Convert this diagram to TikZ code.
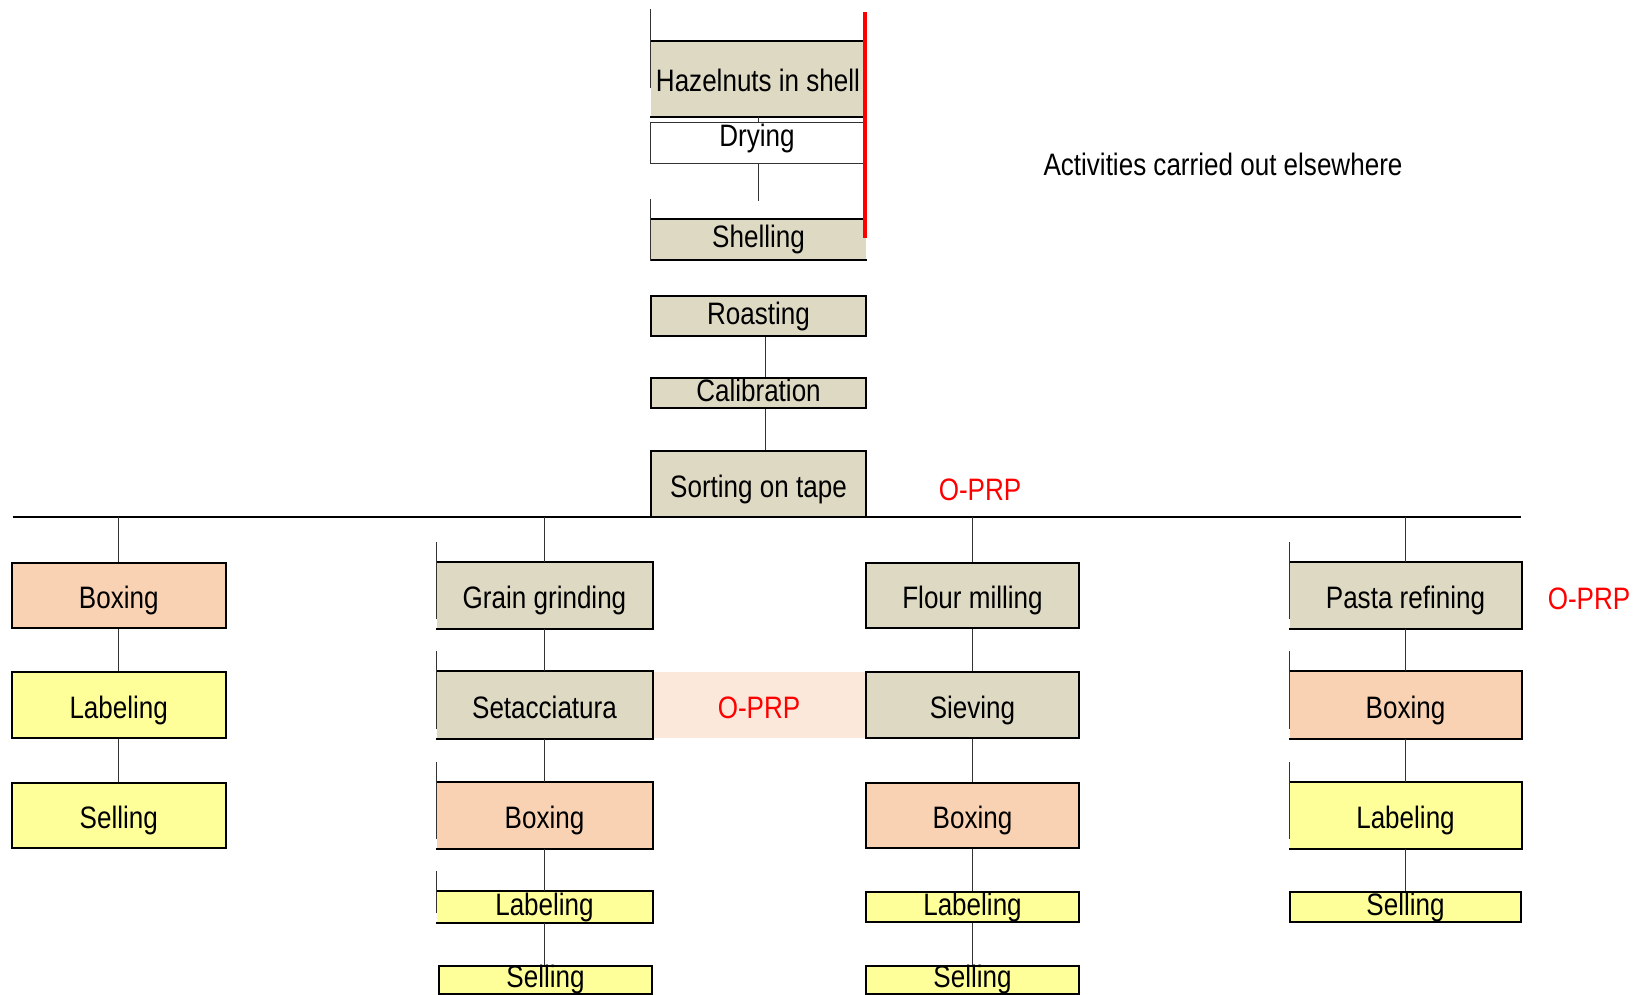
\documentclass[tikz,border=0pt]{standalone}
\usepackage{fontspec}
\setmainfont{Liberation Sans}[FakeStretch=0.84]
\definecolor{tan}{HTML}{DDD9C3}
\definecolor{peach}{HTML}{F9D2B4}
\definecolor{lemon}{HTML}{FFFF99}
\definecolor{blush}{HTML}{FBE8DA}
\begin{document}
\begin{tikzpicture}[x=1pt,y=-1pt,
	block/.style={draw=black,line width=2pt,inner sep=0pt,text height=22pt,text depth=6pt,font=\fontsize{31}{31}\selectfont},
	tall/.style={text height=27pt,text depth=1pt},
	openblock/.style={block,draw=none},
	edge/.style={line width=2pt,line join=miter},
	stub/.style={line width=1pt,black!80},
	link/.style={line width=1pt,black!80},
	note/.style={red,inner sep=0pt,font=\fontsize{31}{31}\selectfont}]
	\useasboundingbox (0,0) rectangle (1634,995);
	\node[openblock,tall,fill=tan,minimum width=214pt,minimum height=74pt] (hazel) at (758,79) {Hazelnuts in shell};
	\node[openblock,fill=white,minimum width=212pt,minimum height=39pt] (dry) at (757,143.5) {};
	\node[font=\fontsize{31}{31}\selectfont,inner sep=0pt] (drytext) at (757,138) {Drying};
	\node[openblock,fill=tan,minimum width=215pt,minimum height=39pt] (shell) at (758.5,239.5) {Shelling};
	\node[block,fill=tan,minimum width=215pt,minimum height=40pt] (roast) at (758.5,316) {Roasting};
	\node[block,fill=tan,minimum width=215pt,minimum height=30pt] (calib) at (758.5,393) {Calibration};
	\node[block,tall,fill=tan,minimum width=215pt,minimum height=66pt] (sort) at (758.5,484) {Sorting on tape};
	\coordinate (spine) at (765,0);
	\coordinate (dryend) at (758,201);
	\coordinate (busL) at (12.5,517);
	\coordinate (busR) at (1521,517);
	\draw[edge] (hazel.north west) -- (hazel.north east);
	\draw[edge] (hazel.south west) -- (hazel.south east);
	\draw[stub] ([yshift=32pt]hazel.north west) -- ([yshift=29pt]hazel.south west);
	\draw[link] (dry.north east) -- (dry.north west) -- (dry.south west) -- (dry.south east);
	\draw[edge] (shell.north west) -- (shell.north east);
	\draw[edge] (shell.south west) -- (shell.south east);
	\draw[stub] ([yshift=20pt]shell.north west) -- ([yshift=-1pt]shell.south west);
	\draw[red,line width=4pt] (865,12.5) -- (865,238);
	\draw[link] (hazel.south -| dryend) -- (dry.north -| dryend);
	\draw[link] (dry.south -| dryend) -- (dryend);
	\draw[link] (roast.south -| spine) -- (calib.north -| spine);
	\draw[link] (calib.south -| spine) -- (sort.north -| spine);
	\draw[line width=2pt] (busL) -- (busR);
	\node[font=\fontsize{31}{31}\selectfont,inner sep=0pt] (elsewhere) at (1223,164) {Activities carried out elsewhere};
	\node[note] (opTop) at (980,490) {O-PRP};
	\node[note] (opRight) at (1589,599) {O-PRP};
	\node[openblock,tall,fill=blush,text=red,minimum width=214pt,minimum height=66pt] (opMid) at (759,705) {O-PRP};
	\node[block,tall,fill=peach,minimum width=214.5pt,minimum height=65pt] (c1a) at (118.75,595.5) {Boxing};
	\node[block,tall,fill=lemon,minimum width=214.5pt,minimum height=66pt] (c1b) at (118.75,705) {Labeling};
	\node[block,tall,fill=lemon,minimum width=214.5pt,minimum height=65pt] (c1c) at (118.75,815.5) {Selling};
	\node[openblock,tall,fill=tan,minimum width=215pt,minimum height=65pt] (c2a) at (544.5,595.5) {Grain grinding};
	\node[openblock,tall,fill=tan,minimum width=215pt,minimum height=66pt] (c2b) at (544.5,705) {Setacciatura};
	\node[openblock,tall,fill=peach,minimum width=215pt,minimum height=65pt] (c2c) at (544.5,815.5) {Boxing};
	\node[openblock,fill=lemon,minimum width=215pt,minimum height=30pt] (c2d) at (544.5,907) {Labeling};
	\node[block,fill=lemon,minimum width=213pt,minimum height=27pt] (c2e) at (545.5,979.5) {Selling};
	\node[block,tall,fill=tan,minimum width=213pt,minimum height=65pt] (c3a) at (972.5,595.5) {Flour milling};
	\node[block,tall,fill=tan,minimum width=213pt,minimum height=66pt] (c3b) at (972.5,705) {Sieving};
	\node[block,tall,fill=peach,minimum width=213pt,minimum height=65pt] (c3c) at (972.5,815.5) {Boxing};
	\node[block,fill=lemon,minimum width=213pt,minimum height=30pt] (c3d) at (972.5,907) {Labeling};
	\node[block,fill=lemon,minimum width=213pt,minimum height=27pt] (c3e) at (972.5,979.5) {Selling};
	\node[openblock,tall,fill=tan,minimum width=231pt,minimum height=65pt] (c4a) at (1405.5,595.5) {Pasta refining};
	\node[openblock,tall,fill=peach,minimum width=231pt,minimum height=66pt] (c4b) at (1405.5,705) {Boxing};
	\node[openblock,tall,fill=lemon,minimum width=231pt,minimum height=65pt] (c4c) at (1405.5,815.5) {Labeling};
	\node[block,fill=lemon,minimum width=231pt,minimum height=30pt] (c4d) at (1405.5,907) {Selling};
	\foreach \n in {c2a,c2b,c2c,c2d,c4a,c4b,c4c} {
		\draw[edge] (\n.north west) -- (\n.north east) -- (\n.south east) -- (\n.south west);
		\draw[stub] ([yshift=20pt]\n.north west) -- ([yshift=10pt]\n.south west);
	}
	\foreach \n in {c1a,c2a,c3a,c4a}
		\draw[link] (\n.north |- busL) -- (\n.north);
	\foreach \u/\v in {c1a/c1b,c1b/c1c,c2a/c2b,c2b/c2c,c2c/c2d,c3a/c3b,c3b/c3c,c3c/c3d,c3d/c3e,c4a/c4b,c4b/c4c,c4c/c4d}
		\draw[link] (\u) -- (\v);
	\draw[link] (c2d) -- (c2d |- c2e.north);
\end{tikzpicture}
\end{document}
